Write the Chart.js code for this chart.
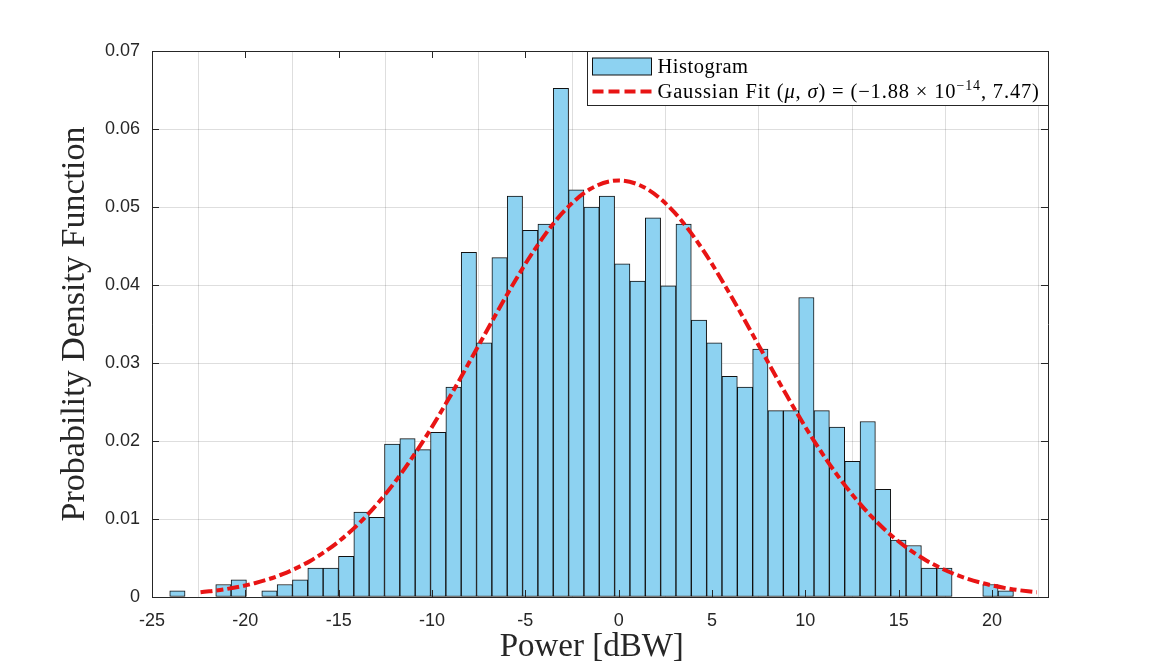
<!DOCTYPE html>
<html>
<head>
<meta charset="utf-8">
<script src="https://cdn.jsdelivr.net/npm/chart.js@4.4.1/dist/chart.umd.min.js"></script>
<style>
  html, body { margin: 0; padding: 0; background: #fff; }
  #wrap { width: 1159px; height: 670px; }
</style>
</head>
<body>
<div id="wrap"><canvas id="myChart"></canvas></div>
<script>
// histogram bin centres [dBW] and pdf heights
const binCenters = [
  -23.639, -22.817, -21.995, -21.174, -20.352, -19.530, -18.708, -17.886, -17.065, -16.243,
  -15.421, -14.599, -13.777, -12.956, -12.134, -11.312, -10.490, -9.668, -8.847, -8.025,
  -7.203, -6.381, -5.559, -4.738, -3.916, -3.094, -2.272, -1.450, -0.629, 0.193,
  1.015, 1.837, 2.659, 3.480, 4.302, 5.124, 5.946, 6.768, 7.589, 8.411,
  9.233, 10.055, 10.877, 11.698, 12.520, 13.342, 14.164, 14.986, 15.807, 16.629,
  17.451, 18.273, 19.095, 19.916, 20.738
];
const pdfValues = [
  0.0008, 0, 0, 0.0016, 0.0022, 0, 0.0008, 0.0016, 0.0022, 0.0037,
  0.0037, 0.0052, 0.0109, 0.0102, 0.0196, 0.0203, 0.0189, 0.0211, 0.0269, 0.0442,
  0.0326, 0.0435, 0.0514, 0.0470, 0.0478, 0.0652, 0.0522, 0.0500, 0.0514, 0.0427,
  0.0405, 0.0486, 0.0399, 0.0478, 0.0355, 0.0326, 0.0283, 0.0269, 0.0318, 0.0239,
  0.0239, 0.0384, 0.0239, 0.0218, 0.0174, 0.0225, 0.0138, 0.0073, 0.0066, 0.0037,
  0.0037, 0, 0, 0.0016, 0.0008
];

// gaussian fit curve
const fitX = [
  -22.4, -21, -19.5, -18, -16.5, -15, -13.5, -12, -10.5, -9, -7.5, -6, -4.5, -3, -1.5,
  0, 1.5, 3, 4.5, 6, 7.5, 9, 10.5, 12, 13.5, 15, 16.5, 18, 19.5, 21, 22.4
];
const fitY = [
  0.0006, 0.00103, 0.00177, 0.00293, 0.00466, 0.00711, 0.01043, 0.0147, 0.01989, 0.02585,
  0.03226, 0.03868, 0.04455, 0.04927, 0.05234, 0.05341, 0.05234, 0.04927, 0.04455, 0.03868,
  0.03226, 0.02585, 0.01989, 0.0147, 0.01043, 0.00711, 0.00466, 0.00293, 0.00177, 0.00103, 0.0006
];

const xTicks = [-25, -20, -15, -10, -5, 0, 5, 10, 15, 20];
const xTickLabels = ['-25', '-20', '-15', '-10', '-5', '0', '5', '10', '15', '20'];
const yTicks = [0, 0.01, 0.02, 0.03, 0.04, 0.05, 0.06, 0.07];
const yTickLabels = ['0', '0.01', '0.02', '0.03', '0.04', '0.05', '0.06', '0.07'];

const barFill = '#8dd2f1';
const fitColor = '#e81414';
const fitDash = [12, 4, 7, 4];
const axisColor = '#262626';

// matlab style box: closed frame + inward tick marks
const boxTicks = {
  id: 'boxTicks',
  afterDraw(chart) {
    const { ctx, chartArea: a, scales } = chart;
    ctx.save();
    ctx.strokeStyle = axisColor;
    ctx.lineWidth = 1;
    ctx.beginPath();
    ctx.rect(Math.round(a.left) + 0.5, Math.round(a.top) + 0.5,
      Math.round(a.right - a.left), Math.round(a.bottom - a.top));
    scales.x.ticks.forEach((t) => {
      const px = Math.round(scales.x.getPixelForValue(t.value)) + 0.5;
      ctx.moveTo(px, a.bottom); ctx.lineTo(px, a.bottom - 7);
      ctx.moveTo(px, a.top); ctx.lineTo(px, a.top + 7);
    });
    scales.y.ticks.forEach((t) => {
      const py = Math.round(scales.y.getPixelForValue(t.value)) + 0.5;
      ctx.moveTo(a.left, py); ctx.lineTo(a.left + 7, py);
      ctx.moveTo(a.right, py); ctx.lineTo(a.right - 7, py);
    });
    ctx.stroke();
    ctx.restore();
  }
};

// legend drawn the way the LaTeX interpreter lays it out
const texLegend = {
  id: 'texLegend',
  afterDraw(chart) {
    const { ctx, chartArea: a } = chart;
    const bw = 461, bh = 54;
    const bx = Math.round(a.right - bw) + 0.5, by = Math.round(a.top) + 0.5;
    ctx.save();
    ctx.fillStyle = '#fff';
    ctx.fillRect(bx, by, bw, bh);
    ctx.strokeStyle = axisColor;
    ctx.lineWidth = 1;
    ctx.strokeRect(bx, by, bw, bh);

    ctx.fillStyle = barFill;
    ctx.fillRect(bx + 5, by + 6.5, 59, 17);
    ctx.strokeStyle = '#111';
    ctx.strokeRect(bx + 5, by + 6.5, 59, 17);

    ctx.strokeStyle = fitColor;
    ctx.lineWidth = 4;
    ctx.setLineDash([11, 5]);
    ctx.beginPath();
    ctx.moveTo(bx + 5, by + 40);
    ctx.lineTo(bx + 64, by + 40);
    ctx.stroke();
    ctx.setLineDash([]);

    const rm = '20.5px "Liberation Serif"';
    const it = 'italic 20.5px "Liberation Serif"';
    const sup = '14px "Liberation Serif"';
    ctx.fillStyle = '#000';
    ctx.textBaseline = 'alphabetic';
    ctx.letterSpacing = '0.5px';
    ctx.font = rm;
    ctx.fillText('Histogram', bx + 70, by + 21);

    ctx.letterSpacing = '0.85px';
    const parts = [
      ['Gaussian Fit (', rm, 0], ['\u03bc', it, 0], [', ', rm, 0], ['\u03c3', it, 0],
      [') = (\u22121.88 \u00d7 10', rm, 0], ['\u221214', sup, -8], [', 7.47)', rm, 0]
    ];
    let x = bx + 70;
    parts.forEach(([s, f, dy]) => {
      ctx.font = f;
      ctx.fillText(s, x, by + 46 + dy);
      x += ctx.measureText(s).width;
    });
    ctx.restore();
  }
};

const ctx = document.getElementById('myChart');

new Chart(ctx, {
  type: 'bar',
  data: {
    datasets: [
      {
        type: 'line',
        label: 'Gaussian Fit',
        data: fitX.map((x, i) => ({ x: x, y: fitY[i] })),
        borderColor: fitColor,
        borderWidth: 4,
        borderDash: fitDash,
        pointRadius: 0,
        fill: false,
        cubicInterpolationMode: 'monotone',
        order: 0,
      },
      {
        label: 'Histogram',
        data: binCenters.map((x, i) => ({ x: x, y: pdfValues[i] })),
        backgroundColor: barFill,
        borderColor: '#111',
        borderWidth: 1,
        borderSkipped: false,
        barPercentage: 1,
        categoryPercentage: 1,
        order: 1,
      },
    ],
  },
  options: {
    responsive: true,
    maintainAspectRatio: false,
    animation: false,
    layout: { padding: { top: 51, right: 111, left: 0, bottom: 0 } },
    plugins: {
      legend: { display: false },
      tooltip: { enabled: false },
    },
    scales: {
      x: {
        type: 'linear',
        min: -25,
        max: 23,
        offset: false,
        z: 1,
        afterBuildTicks: (scale) => { scale.ticks = xTicks.map((v) => ({ value: v })); },
        afterFit: (scale) => { scale.height = 73; },
        ticks: {
          callback: (v, i) => xTickLabels[i],
          color: axisColor,
          padding: 13,
          maxRotation: 0,
          font: { family: 'Liberation Sans', size: 18 },
        },
        grid: { color: 'rgba(0,0,0,0.13)', drawTicks: false },
        border: { color: axisColor, width: 1 },
        title: {
          display: true,
          text: 'Power [dBW]\u00a0\u00a0',
          color: axisColor,
          font: { family: 'Liberation Serif', size: 33 },
          padding: { top: 0, bottom: 3 },
        },
      },
      y: {
        min: 0,
        max: 0.07,
        z: 1,
        afterBuildTicks: (scale) => { scale.ticks = yTicks.map((v) => ({ value: v })); },
        afterFit: (scale) => { scale.width = 152; },
        ticks: {
          callback: (v, i) => yTickLabels[i],
          color: axisColor,
          padding: 12,
          font: { family: 'Liberation Sans', size: 18 },
        },
        grid: { color: 'rgba(0,0,0,0.13)', drawTicks: false },
        border: { color: axisColor, width: 1 },
        title: {
          display: true,
          text: 'Probability Density Function',
          color: axisColor,
          font: { family: 'Liberation Serif', size: 34 },
          padding: { top: 55, bottom: 0 },
        },
      },
    },
  },
  plugins: [boxTicks, texLegend],
});
</script>
</body>
</html>
